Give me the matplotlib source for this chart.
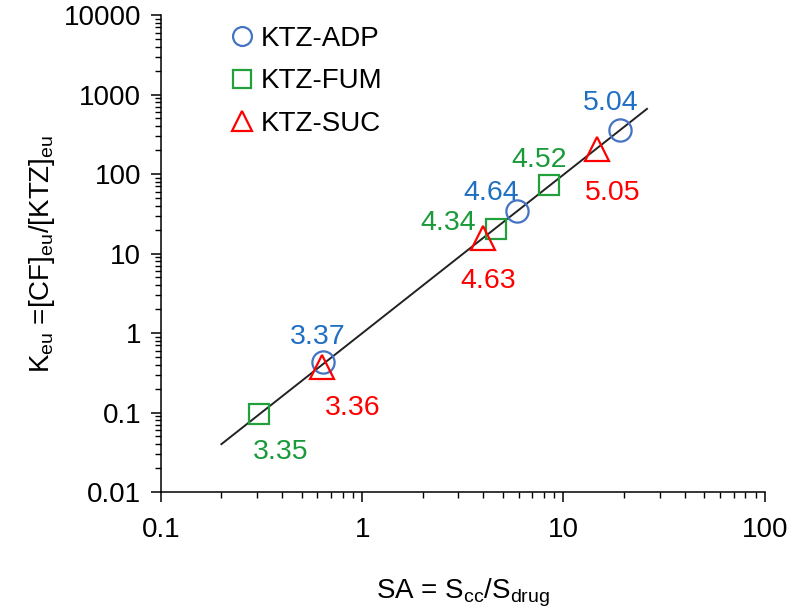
import matplotlib
matplotlib.use("Agg")
import matplotlib.pyplot as plt

plt.rcParams["font.family"] = ["Liberation Sans", "DejaVu Sans"]
plt.rcParams["mathtext.fontset"] = "custom"
plt.rcParams["mathtext.rm"] = "Liberation Sans"
plt.rcParams["mathtext.default"] = "regular"

# data
adp_sa = [0.64, 5.9, 19.0]
adp_k = [0.43, 34.5, 357]
adp_lbl = ["3.37", "4.64", "5.04"]

fum_sa = [0.307, 4.6, 8.5]
fum_k = [0.096, 20.5, 72]
fum_lbl = ["3.35", "4.34", "4.52"]

suc_sa = [0.63, 3.98, 14.7]
suc_k = [0.377, 15.5, 205]
suc_lbl = ["3.36", "4.63", "5.05"]

fit_sa = [0.2, 26.0]
fit_k = [0.04, 660]

# label offsets in pixels (text centre relative to point)
adp_off = [(-5, 25), (-26, 18), (-9, 27)]
fum_off = [(22, -38), (-47, 6), (-10, 25)]
suc_off = [(31, -41), (5, -43), (16, -44)]

blue_m, blue_t = "#4472C4", "#1F6FC3"
green_m, green_t = "#22A03C", "#1A9A3A"
red = "#FF0000"

fig = plt.figure(figsize=(8, 6.15), dpi=100)
ax = fig.add_axes([0.201, 0.2, 0.755, 0.7756])

ax.plot(fit_sa, fit_k, color="#222222", lw=1.4, zorder=1)
ax.plot(adp_sa, adp_k, "o", ms=16, mfc="none", mec=blue_m, mew=1.6,
        ls="none", label="KTZ-ADP")
ax.plot(fum_sa, fum_k, "s", ms=14.5, mfc="none", mec=green_m, mew=1.6,
        ls="none", label="KTZ-FUM")
ax.plot(suc_sa, suc_k, "^", ms=17, mfc="none", mec=red, mew=1.6,
        ls="none", label="KTZ-SUC")

for xs, ys, lbls, offs, c in [(adp_sa, adp_k, adp_lbl, adp_off, blue_t),
                              (fum_sa, fum_k, fum_lbl, fum_off, green_t),
                              (suc_sa, suc_k, suc_lbl, suc_off, red)]:
    for x, y, s, o in zip(xs, ys, lbls, offs):
        ax.annotate(s, (x, y), xytext=o, textcoords="offset pixels",
                    ha="center", va="center", color=c, fontsize=20.5)

ax.set_xscale("log")
ax.set_yscale("log")
ax.set_xlim(0.1, 100)
ax.set_ylim(0.01, 10000)
ax.set_xticks([0.1, 1, 10, 100])
ax.set_xticklabels(["0.1", "1", "10", "100"])
ax.set_yticks([0.01, 0.1, 1, 10, 100, 1000, 10000])
ax.set_yticklabels(["0.01", "0.1", "1", "10", "100", "1000", "10000"])

for s in ["top", "right"]:
    ax.spines[s].set_visible(False)
for s in ["left", "bottom"]:
    ax.spines[s].set_linewidth(1.1)
ax.tick_params(which="major", length=7, width=1.1, labelsize=20, pad=7)
ax.tick_params(axis="x", which="major", pad=11)
ax.tick_params(which="minor", length=4.5, width=1.0)

ax.set_xlabel("SA = S$_{cc}$/S$_{drug}$", fontsize=20, labelpad=24)
ax.set_ylabel("K$_{eu}$ =[CF]$_{eu}$/[KTZ]$_{eu}$", fontsize=20, labelpad=5)

ax.legend(loc="upper left", bbox_to_anchor=(0.074, 1.03), frameon=False,
          fontsize=20, handlelength=0.8, handletextpad=0.3, labelspacing=0.6,
          markerscale=0.85, numpoints=1)

fig.savefig("out.png", dpi=100)
